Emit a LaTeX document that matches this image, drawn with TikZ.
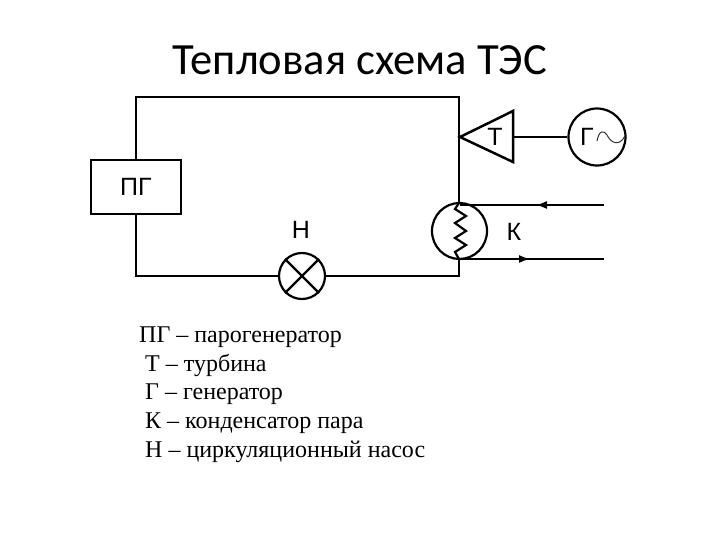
\documentclass[tikz,border=0pt]{standalone}
\usepackage{fontspec}
\setmainfont{Liberation Serif}
\newfontfamily\titlefont{Carlito}
\newfontfamily\labelfont{Liberation Sans}
\usetikzlibrary{arrows.meta,shapes.geometric}
\tikzset{
  x=1pt,y=-1pt,
  wire/.style={line width=2.5pt,black},
  thin wire/.style={line width=1.5pt,black},
  unit/.style={draw=black,line width=2.2pt,circle,inner sep=0pt,fill=none},
  lab/.style={font=\labelfont\fontsize{25}{30}\selectfont,inner sep=0pt},
  legend/.style={font=\fontsize{24}{29}\selectfont,anchor=base west,inner sep=0pt},
  flow/.style={-{Latex[length=11pt,width=8pt]},line width=1.5pt}
}
\begin{document}
\begin{tikzpicture}
\useasboundingbox (0,0) rectangle (720,540);
\fill[white] (0,0) rectangle (720,540);
\node[font=\titlefont\fontsize{44.6}{53}\selectfont,inner sep=0pt] (title) at (360,60) {Тепловая схема ТЭС};
% nodes
\node[draw=black,line width=2.5pt,minimum width=90pt,minimum height=54pt,inner sep=0pt,lab] (pg) at (136,187) {ПГ};
\node[unit,minimum size=46pt] (pump) at (302,276) {};
\node[unit,minimum size=57pt] (gen) at (597,137) {};
\node[draw=black,line width=2.2pt,ellipse,minimum width=55pt,minimum height=56pt,inner sep=0pt] (cond) at (459.5,231) {};
\coordinate (tl) at (136,97);
\coordinate (tr) at (459,97);
\coordinate (br) at (459,276);
\coordinate (bl) at (136,276);
\coordinate (tip) at (460,137);
\coordinate (t1) at (513,111);
\coordinate (t2) at (513,162);
\coordinate (tm) at (513,137);
\coordinate (zt) at (459,203);
\coordinate (zb) at (459,259);
\coordinate (i1) at (604,205);
\coordinate (i2) at (460,205);
\coordinate (o1) at (460,259);
\coordinate (o2) at (604,259);
\coordinate (ia) at (536,205);
\coordinate (oa) at (530,259);
% main loop
\draw[wire,line join=miter] (pg.north -| tl) -- (tl) -- (tr) -- (zt);
\draw[wire,line join=miter] (zb) -- (br) -- (pump.east);
\draw[wire,line join=miter] (pump.west) -- (bl) -- (pg.south -| bl);
% pump cross
\draw[line width=2.2pt] (pump.45) -- (pump.225) (pump.135) -- (pump.315);
% turbine
\draw[wire,line join=miter] (tip) -- (t1) -- (t2) -- cycle;
\draw[wire] (tm) -- (gen.west);
% condenser coil
\draw[line width=2.2pt,line join=miter] (zt) -- (455,209) -- (466,216) -- (455,223) -- (466,231) -- (455,238) -- (466,245) -- (455,252) -- (zb);
% cooling lines
\draw[thin wire] (i1) -- (i2);
\draw[thin wire] (o1) -- (o2);
\draw[flow] (i1) -- (ia);
\draw[flow] (o1) -- (oa);
% labels
\node[lab] (lt) at (495,137) {Т};
\node[lab] (lg) at (587,137) {Г};
\draw[line width=1pt,black!80] (597,141) .. controls (599,130) and (604,130) .. (607,135) .. controls (611,143) and (619,147) .. (625,136);
\node[lab] (ln) at (301,230) {Н};
\node[lab] (lk) at (514,232) {К};
% legend
\node[legend] (l1) at (139,342) {ПГ – парогенератор};
\node[legend] (l2) at (145,371) {Т – турбина};
\node[legend] (l3) at (145,399) {Г – генератор};
\node[legend] (l4) at (145,428) {К – конденсатор пара};
\node[legend] (l5) at (145,457) {Н – циркуляционный насос};
\end{tikzpicture}
\end{document}
